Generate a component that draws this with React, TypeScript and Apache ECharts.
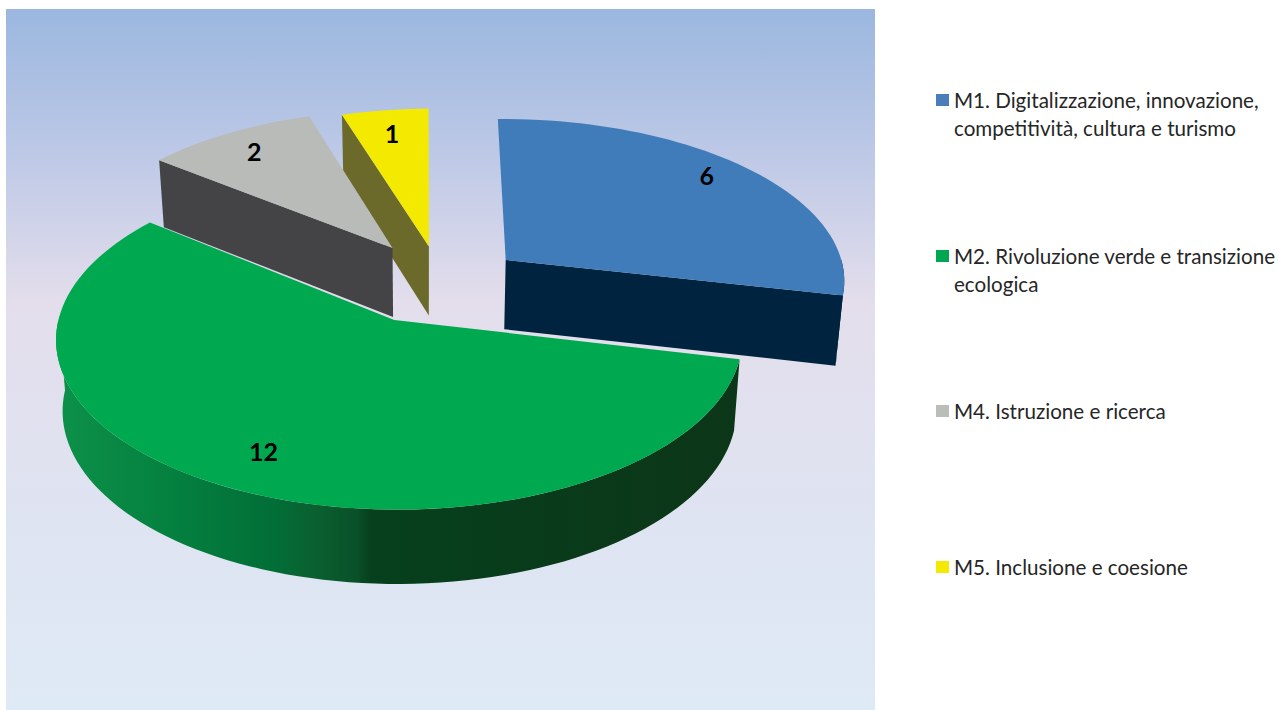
import React, { useEffect, useRef } from "react";
import * as echarts from "echarts";

const categories = [
  "M1. Digitalizzazione, innovazione,\ncompetitività, cultura e turismo",
  "M2. Rivoluzione verde e transizione\necologica",
  "M4. Istruzione e ricerca",
  "M5. Inclusione e coesione",
];
const values = [6, 12, 2, 1];
const topColors = ["#3f7cb9", "#00a94f", "#b9bbb9", "#f4e900"];
const legendColors = ["#4a7ebb", "#00a651", "#bbbdbb", "#f4e900"];
const faceColors = ["#00243f", "#0b3a1a", "#444446", "#6b6a2b"];

const total = values.reduce((a, b) => a + b, 0);
const CX = 425, CY = 290, RX = 335, RY = 162, PERSP = 0.11, PERSP_X = 0.015;
const DEPTH = 70, DEPTH_PERSP = 0.05, SHRINK = 0.018;
// explosion of each slice, in radius units
const explode = [[0.245, 0.189], [-0.09, -0.181], [-0.1, 0.267], [0.012, 0.277]];
const labelRadius = [0.867, 0.8, 0.83, 0.82];
const labelTurn = [-2.4, 0, 0, 0];
const drawOrder = [3, 2, 0, 1];

function project(u: number, v: number, z: number): number[] {
  const w = 1 + PERSP * v - PERSP_X * u;
  const s = 1 + SHRINK * z;
  return [CX + (RX * u) / (w * s), CY - (RY * v) / w + (DEPTH * z) / (1 + DEPTH_PERSP * v)];
}

function sliceAngles(i: number) {
  let before = 0;
  for (let k = 0; k < i; k++) before += values[k];
  return [(before / total) * 360, ((before + values[i]) / total) * 360];
}

function pt(i: number, deg: number, r: number, z: number) {
  const a = (deg * Math.PI) / 180;
  return project(explode[i][0] + r * Math.sin(a), explode[i][1] + r * Math.cos(a), z);
}

function arcPts(i: number, a0: number, a1: number, z: number) {
  const out: number[][] = [];
  const n = Math.max(2, Math.ceil(Math.abs(a1 - a0) / 2));
  for (let k = 0; k <= n; k++) out.push(pt(i, a0 + ((a1 - a0) * k) / n, 1, z));
  return out;
}

function renderSlice(i: number) {
  return (_params: any, api: any) => {
    const value = api.value(0);
    const [a0, a1] = sliceAngles(i);
    const children: any[] = [];
    const poly = (points: number[][], fill: any) =>
      children.push({ type: "polygon", shape: { points }, style: { fill, stroke: null } });

    // outer wall (only the part that faces the viewer)
    const w0 = Math.max(a0, 90), w1 = Math.min(a1, 270);
    if (w1 > w0) {
      const top = arcPts(i, w0, w1, 0);
      const bot = arcPts(i, w0, w1, 1);
      const fill =
        i === 1
          ? new echarts.graphic.LinearGradient(0, 0, 1, 0, [
              { offset: 0, color: "#0d9149" },
              { offset: 0.17, color: "#04803f" },
              { offset: 0.32, color: "#026e37" },
              { offset: 0.38, color: "#0a6030" },
              { offset: 0.44, color: "#0a5029" },
              { offset: 0.46, color: "#06401c" },
              { offset: 1, color: "#0c3618" },
            ])
          : faceColors[i];
      poly(top.concat(bot.reverse()), fill);
    }
    // radial walls that face the viewer
    if (a0 > 180 && a0 < 360)
      poly([pt(i, a0, 0, 0), pt(i, a0, 1, 0), pt(i, a0, 1, 1), pt(i, a0, 0, 1)], faceColors[i]);
    if (a1 > 0 && a1 < 180)
      poly([pt(i, a1, 0, 0), pt(i, a1, 1, 0), pt(i, a1, 1, 1), pt(i, a1, 0, 1)], faceColors[i]);
    // top surface
    poly([pt(i, a0, 0, 0)].concat(arcPts(i, a0, a1, 0)), topColors[i]);
    // data label
    const mid = (a0 + a1) / 2 + labelTurn[i];
    const p = pt(i, mid, labelRadius[i], 0);
    children.push({
      type: "text",
      x: p[0],
      y: p[1],
      z2: 10,
      style: {
        text: String(value),
        fill: "#000",
        font: 'bold 25px Lato, "Noto Sans", sans-serif',
        align: "center",
        verticalAlign: "middle",
      },
    });
    return { type: "group", children };
  };
}

const legendTops = [86, 242, 397, 553];
// two-line entries: a marker level with the first line of text
const firstLineMarker = "path://M0 0L0.01 0Z M0 8H13V20H0Z M0 56L0.01 56Z";

export default function App() {
  const ref = useRef<HTMLDivElement>(null);
  useEffect(() => {
    document.body.style.margin = "0";
    const chart = echarts.init(ref.current!, undefined, { renderer: "svg" });
    chart.setOption({
      animation: false,
      backgroundColor: "#ffffff",
      graphic: [
        {
          type: "rect",
          z: -10,
          shape: { x: 6, y: 9, width: 869, height: 701 },
          style: {
            fill: new echarts.graphic.LinearGradient(0, 0, 0, 1, [
              { offset: 0, color: "#9bb7df" },
              { offset: 0.2, color: "#bcc8e6" },
              { offset: 0.42, color: "#e4deec" },
              { offset: 0.7, color: "#dfe3f1" },
              { offset: 1, color: "#deeaf5" },
            ]),
          },
        },
      ],
      legend: categories.map((name, i) => {
        const twoLines = name.includes("\n");
        return {
          data: [name],
          orient: "vertical",
          left: 936,
          top: legendTops[i],
          icon: twoLines ? firstLineMarker : "rect",
          itemWidth: 13,
          itemHeight: twoLines ? 56 : 12,
          itemGap: 0,
          selectedMode: false,
          padding: 0,
          textStyle: {
            fontFamily: 'Lato, "Noto Sans", sans-serif',
            fontSize: 20.6,
            lineHeight: 28,
            color: "#262626",
          },
        };
      }),
      series: drawOrder.map((i) => ({
        type: "custom",
        name: categories[i],
        coordinateSystem: "none",
        itemStyle: { color: legendColors[i] },
        data: [[values[i]]],
        renderItem: renderSlice(i),
      })),
    });
    return () => chart.dispose();
  }, []);
  return <div ref={ref} style={{ position: "fixed", left: 0, top: 0, width: 1279, height: 710 }} />;
}
